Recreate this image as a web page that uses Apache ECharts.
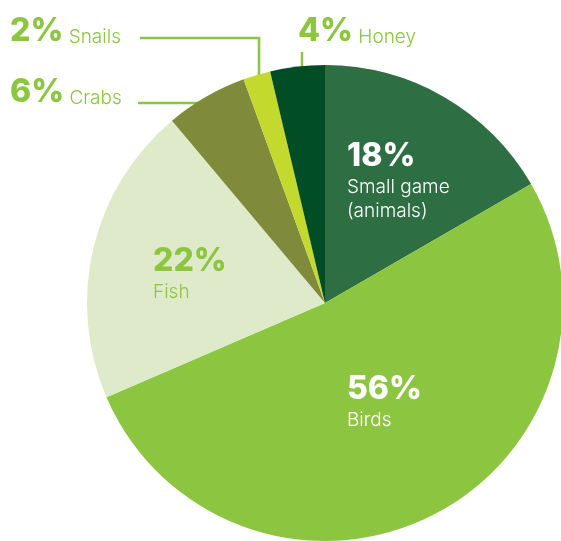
<!DOCTYPE html>
<html>
<head>
<meta charset="utf-8">
<script src="https://cdn.jsdelivr.net/npm/echarts@6/dist/echarts.min.js"></script>
<style>html,body{margin:0;padding:0;background:#fff;}#c{width:561px;height:541px;}</style>
</head>
<body>
<div id="c"></div>
<script>
const categories = ['Small game\n(animals)', 'Birds', 'Fish', 'Crabs', 'Snails', 'Honey'];
const values = [18, 56, 22, 6, 2, 4];
const colors = ['#2d6e42', '#8cc641', '#dfeacb', '#7f8a3a', '#c3d92e', '#014d25'];
const labelColors = ['#ffffff', '#ffffff', '#8cc641', '#8cc641', '#8cc641', '#8cc641'];
const outside = [false, false, false, true, true, true];

// label placement (pixels) per slice
const labelPos = [
  {x: 347, y: 139},
  {x: 347, y: 372},
  {x: 153, y: 244},
  {x: 10, y: 75},
  {x: 10, y: 14},
  {x: 298, y: 14}
];
const linePts = [
  null, null, null,
  [[217, 103], [138, 103], [138, 103]],
  [[259, 93], [259, 38], [140, 38]],
  [[302, 91], [302, 52], [302, 52]]
];

const FONT = 'Inter, "Noto Sans", sans-serif';

const data = categories.map((name, i) => {
  const c = labelColors[i];
  return {
    name: name,
    value: values[i],
    itemStyle: {color: colors[i]},
    label: {
      show: true,
      position: outside[i] ? 'outside' : 'inside',
      formatter: outside[i]
        ? '{p|' + values[i] + '%}{n| ' + name + '}'
        : '{p|' + values[i] + '%}\n' + name.split('\n').map(s => '{n|' + s + '}').join('\n'),
      rich: {
        p: {fontFamily: FONT, fontSize: 32, fontWeight: 800, color: c, lineHeight: 34},
        n: {fontFamily: FONT, fontSize: 19, fontWeight: 300, color: c, lineHeight: 24,
            padding: outside[i] ? [12, 0, 0, 0] : [5, 0, 0, 0]}
      }
    },
    labelLine: {
      show: outside[i],
      lineStyle: {color: '#8cc641', width: 2.5}
    }
  };
});

const chart = echarts.init(document.getElementById('c'));
chart.setOption({
  animation: false,
  series: [{
    type: 'pie',
    center: [325, 303],
    radius: 238,
    startAngle: 90,
    clockwise: true,
    avoidLabelOverlap: false,
    data: data,
    labelLayout: function (params) {
      const i = params.dataIndex;
      const r = {x: labelPos[i].x, y: labelPos[i].y, align: 'left', verticalAlign: 'top'};
      if (linePts[i]) r.labelLinePoints = linePts[i];
      return r;
    }
  }]
});
</script>
</body>
</html>
